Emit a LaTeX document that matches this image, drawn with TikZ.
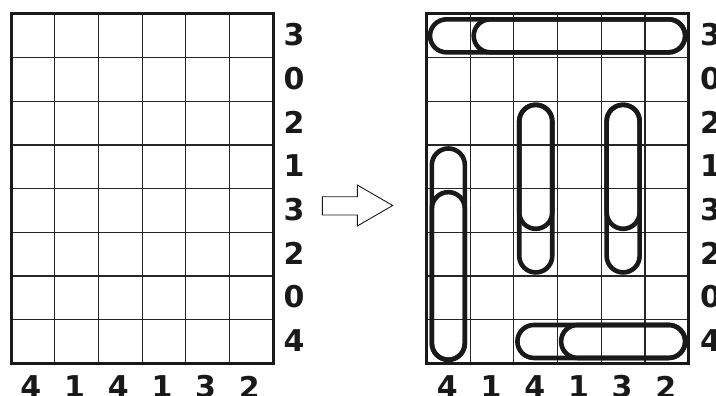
\documentclass[tikz,border=0pt]{standalone}
\usepackage{fontspec}
\setmainfont{DejaVu Sans}
\begin{document}
\begin{tikzpicture}[x=1pt,y=-1pt,
  thin line/.style={line width=1.1pt,black!85},
  border/.style={line width=3pt,black!90},
  clip line/.style={line width=4.6pt,black!90,rounded corners=16.5pt},
  num/.style={font=\fontsize{30}{30}\selectfont\bfseries,text=black!90,inner sep=0pt}]
\useasboundingbox (0,0) rectangle (716,396);
% grids
\def\LX{11}\def\RX{426.5}\def\TY{14}\def\cw{43.7}\def\ch{43.66}
\foreach \gx in {\LX,\RX}{
  \foreach \i in {1,...,5}
    \draw[thin line] ({\gx+\i*\cw},\TY) -- ({\gx+\i*\cw},{\TY+8*\ch});
  \foreach \j in {1,...,7}
    \draw[thin line] (\gx,{\TY+\j*\ch}) -- ({\gx+6*\cw},{\TY+\j*\ch});
  \draw[border] (\gx,\TY) rectangle ({\gx+6*\cw},{\TY+8*\ch});
}
% row labels
\foreach \v [count=\j] in {3,0,2,1,3,2,0,4}{
  \node[num] (l\j) at (294,{\TY+(\j-0.5)*\ch-1}) {\v};
  \node[num,anchor=west] (r\j) at (700,{\TY+(\j-0.5)*\ch-1}) {\v};
}
% column labels
\foreach \v [count=\i] in {4,1,4,1,3,2}{
  \node[num] (lb\i) at ({\LX+(\i-0.5)*\cw-2},387) {\v};
  \node[num] (rb\i) at ({\RX+(\i-0.5)*\cw-1},387) {\v};
}
% arrow
\draw[line width=0.9pt,black!90,line join=miter]
  (322.3,196.7) -- (357.3,196.7) -- (357.3,185) -- (392.7,205.5)
  -- (357.3,226) -- (357.3,215) -- (322.3,215) -- cycle;
% paperclips
\def\in{3.5}
% top row
\draw[clip line] ({\RX+\in},{\TY+0.5*\ch-16.5}) rectangle ({\RX+6*\cw-\in},{\TY+0.5*\ch+16.5});
\draw[clip line] ({\RX+\cw+\in},{\TY+0.5*\ch-16.5}) rectangle ({\RX+6*\cw-\in},{\TY+0.5*\ch+16.5});
% bottom row
\draw[clip line] ({\RX+2*\cw+\in},{\TY+7.5*\ch-16.5}) rectangle ({\RX+6*\cw-\in},{\TY+7.5*\ch+16.5});
\draw[clip line] ({\RX+3*\cw+\in},{\TY+7.5*\ch-16.5}) rectangle ({\RX+6*\cw-\in},{\TY+7.5*\ch+16.5});
% column 1
\draw[clip line] ({\RX+0.5*\cw-16.5},{\TY+3*\ch+\in}) rectangle ({\RX+0.5*\cw+16.5},{\TY+8*\ch-\in});
\draw[clip line] ({\RX+0.5*\cw-16.5},{\TY+4*\ch+\in}) rectangle ({\RX+0.5*\cw+16.5},{\TY+8*\ch-\in});
% columns 3 and 5
\foreach \c in {2.5,4.5}{
  \draw[clip line] ({\RX+\c*\cw-16.5},{\TY+2*\ch+\in}) rectangle ({\RX+\c*\cw+16.5},{\TY+5*\ch-\in});
  \draw[clip line] ({\RX+\c*\cw-16.5},{\TY+2*\ch+\in}) rectangle ({\RX+\c*\cw+16.5},{\TY+6*\ch-\in});
}
\end{tikzpicture}
\end{document}
